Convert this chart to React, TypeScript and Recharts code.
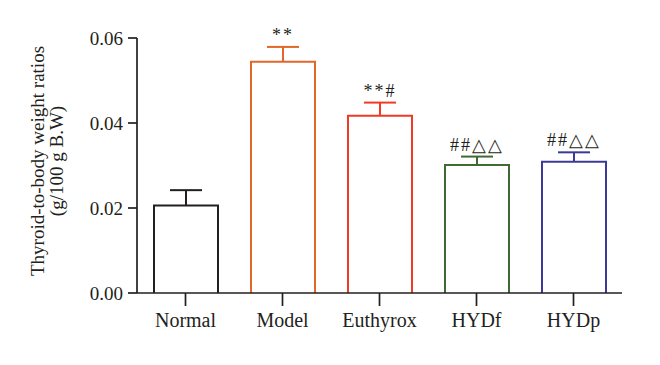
import { Bar, BarChart, Cell, XAxis, YAxis } from 'recharts'

const categories = ['Normal', 'Model', 'Euthyrox', 'HYDf', 'HYDp']
const means = [0.0206, 0.0544, 0.0417, 0.0301, 0.0309]
const sems = [0.0036, 0.0035, 0.0031, 0.002, 0.0022]
const marks = ['', '**', '**#', '##△△', '##△△']
const colors = ['#231f20', '#e2672b', '#ef3b26', '#3f6a34', '#3c3a96']
const yTicks = [0, 0.02, 0.04, 0.06]

const data = categories.map((name, i) => ({ name, value: means[i], err: sems[i], mark: marks[i] }))

const FONT = '"Liberation Serif", "Times New Roman", serif'
const INK = '#231f20'

// hollow bar, open at the bottom, with an upper-only error bar and the significance mark
function HollowBar(props: any) {
  const { x, y, width, height, payload, index } = props
  const color = colors[index]
  const errPx = (payload.err * height) / payload.value
  const cx = x + width / 2
  const top = y - errPx
  return (
    <g>
      <path d={`M${x},${y + height} V${y} H${x + width} V${y + height}`} fill="#fff" stroke={color} strokeWidth={2} />
      <line x1={cx} y1={y} x2={cx} y2={top} stroke={color} strokeWidth={2} />
      <line x1={cx - 16} y1={top} x2={cx + 16} y2={top} stroke={color} strokeWidth={2} />
      {payload.mark ? (
        <text x={cx} y={top - 6} textAnchor="middle" fontFamily={FONT} fontSize={18} fill={INK} letterSpacing={2}>
          {payload.mark}
        </text>
      ) : null}
    </g>
  )
}

function AxisTitle() {
  return (
    <g fontFamily={FONT} fontSize={19} fill={INK} textAnchor="middle">
      <text transform="translate(44,161) rotate(-90)">Thyroid-to-body weight ratios</text>
      <text transform="translate(63,161) rotate(-90)">(g/100 g B.W)</text>
    </g>
  )
}

export default function App() {
  return (
    <div style={{ width: 660, height: 365, background: '#fff' }}>
      <style>{'body{margin:0}'}</style>
      <BarChart width={660} height={365} data={data} margin={{ top: 38, right: 38, bottom: 0, left: 0 }} barSize={64}>
        <XAxis
          dataKey="name"
          interval={0}
          tickSize={13}
          tickMargin={7}
          axisLine={{ stroke: INK, strokeWidth: 1.7 }}
          tickLine={{ stroke: INK, strokeWidth: 1.7 }}
          tick={{ fill: INK, fontSize: 20, fontFamily: FONT }}
          height={72}
        />
        <YAxis
          domain={[0, 0.06]}
          ticks={yTicks}
          width={137}
          tickSize={9}
          tickMargin={5}
          tickFormatter={(v: number) => v.toFixed(2)}
          axisLine={{ stroke: INK, strokeWidth: 1.7 }}
          tickLine={{ stroke: INK, strokeWidth: 1.7 }}
          tick={{ fill: INK, fontSize: 19, fontFamily: FONT }}
          label={{ content: () => <AxisTitle /> }}
        />
        <Bar dataKey="value" shape={<HollowBar />} isAnimationActive={false}>
          {data.map((d, i) => (
            <Cell key={d.name} stroke={colors[i]} />
          ))}
        </Bar>
      </BarChart>
    </div>
  )
}
